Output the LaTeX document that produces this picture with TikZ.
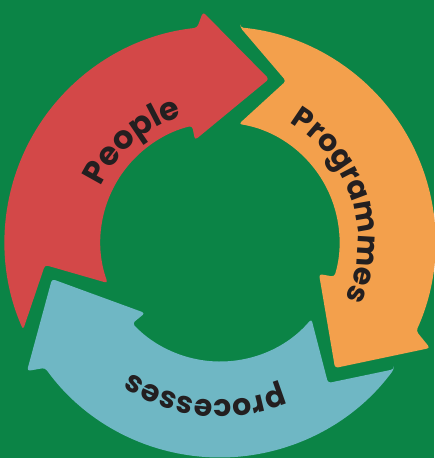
\documentclass[tikz,border=0pt]{standalone}
\usepackage{fontspec}
\newfontfamily\pop{Poppins}
\usetikzlibrary{decorations.text}
\definecolor{bg}{HTML}{0B8446}
\definecolor{redA}{HTML}{D34848}
\definecolor{orA}{HTML}{F3A04C}
\definecolor{blA}{HTML}{6FB7C4}
\definecolor{txt}{HTML}{231F20}
\begin{document}
\begin{tikzpicture}[x=1pt,y=1pt,
  arrowbody/.style={rounded corners=3pt},
  ringtext/.style 2 args={decorate, decoration={text along path, text align=center,
     text={|\pop\bfseries\fontsize{#2}{#2}\selectfont\color{txt}|#1}}}]
\fill[bg] (-220,-216) rectangle (214,242);
\useasboundingbox (-220,-216) rectangle (214,242);
% red arrow (People)
\fill[redA, arrowbody] (204:215.5pt) -- (-175,-23) -- (200.1:119.5pt)
  arc[start angle=200.1, end angle=103.5, radius=119.5pt]
  -- (-25,102) -- (49,163) -- (-17,230) -- (96.1:215.5pt)
  arc[start angle=96.1, end angle=204, radius=215.5pt] -- cycle;
% orange arrow (Programmes)
\fill[orA, arrowbody] (84.6:215.5pt) -- (66,161) -- (80.9:119.5pt)
  arc[start angle=80.9, end angle=-16.9, radius=119.5pt]
  -- (99,-32) -- (115,-126) -- (210,-106) -- (-24.4:215.5pt)
  arc[start angle=-24.4, end angle=84.6, radius=215.5pt] -- cycle;
% blue arrow (processes)
\fill[blA, arrowbody] (-36.2:215.5pt) -- (108,-141) -- (-40.1:119.5pt)
  arc[start angle=-40.1, end angle=-137.1, radius=119.5pt]
  -- (-75,-71) -- (-168,-37) -- (-193,-129) -- (215.75:215.5pt)
  arc[start angle=215.75, end angle=323.8, radius=215.5pt] -- cycle;
% labels
\path[ringtext={People}{32}] (190.9:131pt) arc[start angle=190.9, end angle=70.9, radius=131pt];
\path[ringtext={Programmes}{30}] (107.6:138pt) arc[start angle=107.6, end angle=-72.4, radius=138pt];
\path[ringtext={processes}{30}] (-35.5:158pt) arc[start angle=-35.5, end angle=-155.5, radius=158pt];
\end{tikzpicture}
\end{document}
